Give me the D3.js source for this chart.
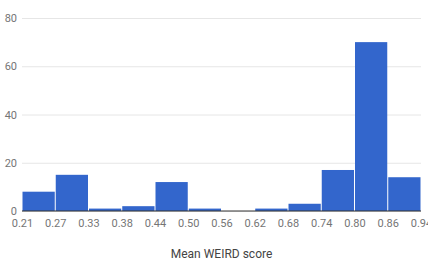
<!DOCTYPE html>
<html>
<head>
<meta charset="utf-8">
<script src="https://cdn.jsdelivr.net/npm/d3@7"></script>
<style>
  body { margin: 0; background: #fff; }
  text { font-family: Roboto, "Noto Sans", sans-serif; }
</style>
</head>
<body>
<div id="chart"></div>
<script>
// bin edges (tick labels) and counts per bin
const tickLabels = ['0.21','0.27','0.33','0.38','0.44','0.50','0.56','0.62','0.68','0.74','0.80','0.86','0.94'];
const counts = [8, 15, 1, 2, 12, 1, 0, 1, 3, 17, 70, 14];
const yTicks = [0, 20, 40, 60, 80];
const xLabel = 'Mean WEIRD score';

const width = 428, height = 280;
const margin = { top: 18, right: 7, bottom: 69, left: 22 };
const innerWidth = width - margin.left - margin.right;
const innerHeight = height - margin.top - margin.bottom;

const svg = d3.select('#chart').append('svg')
  .attr('width', width)
  .attr('height', height);

const g = svg.append('g')
  .attr('transform', `translate(${margin.left},${margin.top})`);

const xScale = d3.scaleLinear()
  .domain([0, counts.length])
  .range([0, innerWidth]);

const yScale = d3.scaleLinear()
  .domain([0, 80])
  .range([innerHeight, 0]);

// gridlines + y labels
const yAxis = d3.axisLeft(yScale)
  .tickValues(yTicks)
  .tickSize(-innerWidth)
  .tickPadding(5);

const yAxisG = g.append('g').call(yAxis);
yAxisG.select('.domain').remove();
yAxisG.selectAll('.tick line')
  .attr('stroke', '#e6e6e6')
  .attr('stroke-width', 1);
yAxisG.selectAll('.tick text')
  .attr('fill', '#757575')
  .style('font-size', '11px');

// bars
g.selectAll('rect.bar').data(counts)
  .enter().append('rect')
  .attr('class', 'bar')
  .attr('x', (d, i) => xScale(i) + 0.5)
  .attr('width', (d, i) => xScale(i + 1) - xScale(i) - 1)
  .attr('y', d => yScale(d))
  .attr('height', d => innerHeight - yScale(d))
  .attr('fill', '#3366cc');

// baseline
g.append('line')
  .attr('x1', 0)
  .attr('x2', innerWidth)
  .attr('y1', yScale(0))
  .attr('y2', yScale(0))
  .attr('stroke', '#333')
  .attr('stroke-width', 1);

// x tick labels at bin edges
const xAxis = d3.axisBottom(xScale)
  .tickValues(d3.range(tickLabels.length))
  .tickFormat(i => tickLabels[i])
  .tickSize(0)
  .tickPadding(8);

const xAxisG = g.append('g')
  .attr('transform', `translate(0,${innerHeight})`)
  .call(xAxis);
xAxisG.select('.domain').remove();
xAxisG.selectAll('.tick text')
  .attr('fill', '#757575')
  .style('font-size', '11px');

// axis title
g.append('text')
  .attr('x', innerWidth / 2)
  .attr('y', innerHeight + 47)
  .attr('text-anchor', 'middle')
  .attr('fill', '#444')
  .style('font-size', '12px')
  .text(xLabel);
</script>
</body>
</html>
